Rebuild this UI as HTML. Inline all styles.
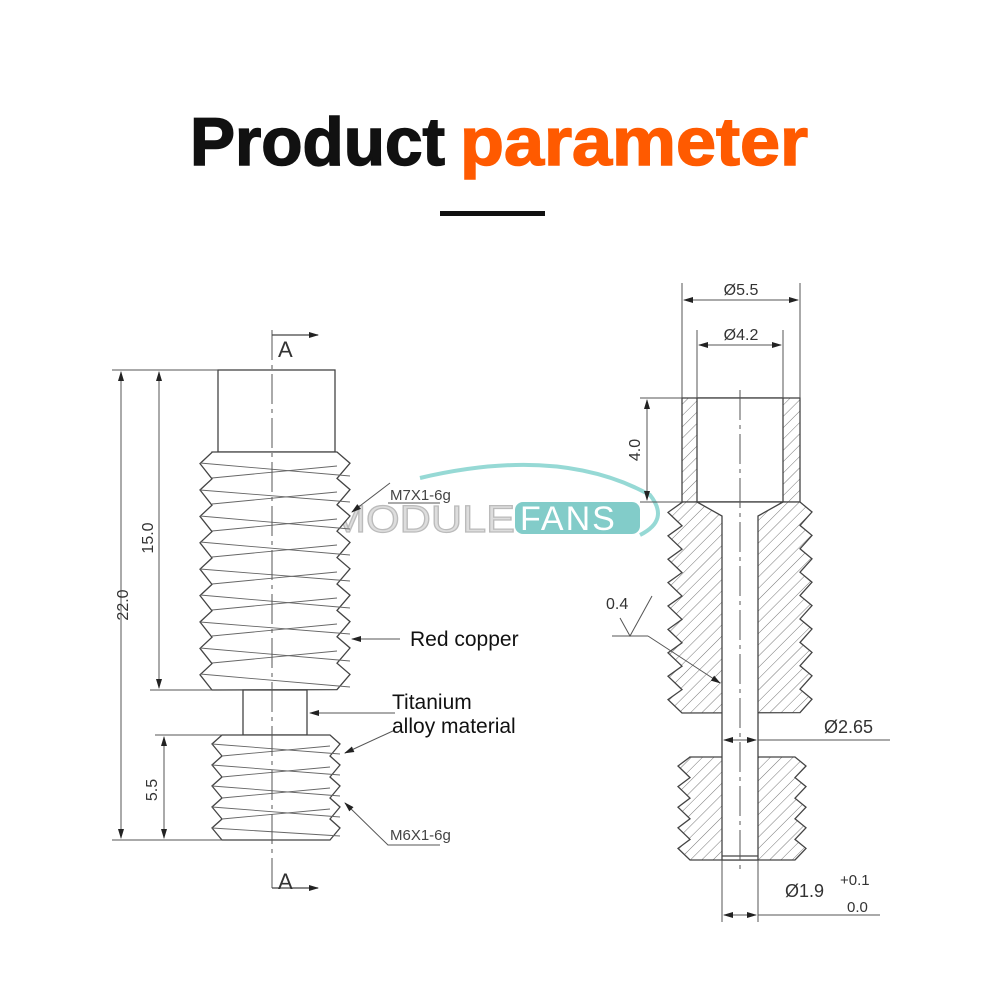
<!DOCTYPE html>
<html><head><meta charset="utf-8"><style>
html,body{margin:0;padding:0;background:#fff}
svg{display:block}
</style></head><body>
<svg width="1000" height="1000" viewBox="0 0 1000 1000" xmlns="http://www.w3.org/2000/svg" font-family="Liberation Sans, Arial, sans-serif">
<defs>
<pattern id="h" width="8" height="8" patternUnits="userSpaceOnUse" patternTransform="rotate(45)">
<rect width="8" height="8" fill="#fff"/><line x1="0" y1="0" x2="0" y2="8" stroke="#777" stroke-width="1"/>
</pattern>
<marker id="ar" markerWidth="10" markerHeight="8" refX="9" refY="4" orient="auto" markerUnits="userSpaceOnUse">
<path d="M0,1 L10,4 L0,7 Z" fill="#222"/></marker>
</defs>
<text x="190" y="165" font-size="68" font-weight="bold" fill="#111" stroke="#111" stroke-width="1.5" textLength="255" lengthAdjust="spacingAndGlyphs">Product</text>
<text x="460" y="165" font-size="68" font-weight="bold" fill="#ff5a00" stroke="#ff5a00" stroke-width="1.5" textLength="348" lengthAdjust="spacingAndGlyphs">parameter</text>
<rect x="440" y="211" width="105" height="5" fill="#111"/>

<!-- watermark -->
<path d="M420,478 Q560,445 650,495 Q670,520 640,535" fill="none" stroke="#7ccfca" stroke-width="4" opacity="0.8"/>
<text x="330" y="532" font-size="38" fill="#ddd" stroke="#bbb" stroke-width="1.2" textLength="185" lengthAdjust="spacingAndGlyphs">MODULE</text>
<rect x="515" y="502" width="125" height="32" rx="8" fill="#6cc3c0" opacity="0.85"/>
<text x="520" y="530" font-size="34" fill="#fff" letter-spacing="2">FANS</text>

<g stroke="#444" stroke-width="1.3" fill="none">
<!-- LEFT PART -->
<rect x="218" y="370" width="117" height="82" fill="#fff"/>
<path d="M212,452 L337,452 l13,11.2 l-13,15.2 l13,11.2 l-13,15.2 l13,11.2 l-13,15.2 l13,11.2 l-13,15.2 l13,11.2 l-13,15.2 l13,11.2 l-13,15.2 l13,11.2 l-13,15.2 l13,11.2 l-13,15.2 l13,11.2 l-13,15.2 L212,690 l-12,-15.2 l12,-11.2 l-12,-15.2 l12,-11.2 l-12,-15.2 l12,-11.2 l-12,-15.2 l12,-11.2 l-12,-15.2 l12,-11.2 l-12,-15.2 l12,-11.2 l-12,-15.2 l12,-11.2 l-12,-15.2 l12,-11.2 l-12,-15.2 l12,-11.2 Z" fill="#fff"/>
<g stroke="#666" stroke-width="0.9">
<path d="M200,463 L350,476 M200,490 L350,502 M200,516 L350,529 M200,542 L350,555 M200,569 L350,581 M200,595 L350,608 M200,622 L350,634 M200,648 L350,661 M200,674 L350,687"/>
<path d="M212,478 L337,466 M212,504 L337,492 M212,531 L337,519 M212,557 L337,545 M212,584 L337,572 M212,610 L337,598 M212,636 L337,624 M212,663 L337,651"/>
</g>
<rect x="243" y="690" width="64" height="45" fill="#fff"/>
<path d="M222,735 L330,735 l10,9 l-10,12 l10,9 l-10,12 l10,9 l-10,12 l10,9 l-10,12 l10,9 l-10,12 L222,840 l-10,-12 l10,-9 l-10,-12 l10,-9 l-10,-12 l10,-9 l-10,-12 l10,-9 l-10,-12 l10,-9 Z" fill="#fff"/>
<g stroke="#666" stroke-width="0.9">
<path d="M212,744 L340,754 M212,765 L340,775 M212,786 L340,796 M212,807 L340,817 M212,828 L340,836 M222,756 L330,746 M222,777 L330,767 M222,798 L330,788 M222,819 L330,809"/>
</g>
<line x1="272" y1="330" x2="272" y2="892" stroke="#555" stroke-dasharray="30 5 4 5" stroke-width="1"/>
<line x1="272" y1="335" x2="318" y2="335" marker-end="url(#ar)"/>
<line x1="272" y1="888" x2="318" y2="888" marker-end="url(#ar)"/>
<!-- dims left -->
<g stroke="#555" stroke-width="1">
<line x1="112" y1="370" x2="218" y2="370"/>
<line x1="112" y1="840" x2="222" y2="840"/>
<line x1="150" y1="690" x2="212" y2="690"/>
<line x1="155" y1="735" x2="222" y2="735"/>
<line x1="121" y1="605" x2="121" y2="372" marker-end="url(#ar)"/>
<line x1="121" y1="605" x2="121" y2="838" marker-end="url(#ar)"/>
<line x1="159" y1="530" x2="159" y2="372" marker-end="url(#ar)"/>
<line x1="159" y1="530" x2="159" y2="688" marker-end="url(#ar)"/>
<line x1="164" y1="790" x2="164" y2="737" marker-end="url(#ar)"/>
<line x1="164" y1="790" x2="164" y2="838" marker-end="url(#ar)"/>
<polyline points="390,483 352,512" marker-end="url(#ar)"/>
<line x1="400" y1="639" x2="352" y2="639" marker-end="url(#ar)"/>
<line x1="395" y1="713" x2="310" y2="713" marker-end="url(#ar)"/>
<line x1="395" y1="730" x2="345" y2="753" marker-end="url(#ar)"/>
<polyline points="440,845 388,845 345,803" marker-end="url(#ar)"/>
<line x1="388" y1="503" x2="440" y2="503"/>
</g>

<!-- RIGHT PART -->
<rect x="682" y="398" width="118" height="104" fill="url(#h)"/>
<rect x="697" y="398" width="86" height="104" fill="#fff"/>
<path d="M682,502 L800,502 l12,10 l-12,13.4 l12,10 l-12,13.4 l12,10 l-12,13.4 l12,10 l-12,13.4 l12,10 l-12,13.4 l12,10 l-12,13.4 l12,10 l-12,13.4 l12,10 l-12,13.4 l12,10 l-12,13.4 L682,713 l-14,-13.4 l14,-10 l-14,-13.4 l14,-10 l-14,-13.4 l14,-10 l-14,-13.4 l14,-10 l-14,-13.4 l14,-10 l-14,-13.4 l14,-10 l-14,-13.4 l14,-10 l-14,-13.4 l14,-10 l-14,-13.4 l14,-10 Z" fill="url(#h)"/>
<path d="M690,757 L795,757 l11,9 l-11,11.6 l11,9 l-11,11.6 l11,9 l-11,11.6 l11,9 l-11,11.6 l11,9 l-11,11.6 L690,860 l-12,-11.6 l12,-9 l-12,-11.6 l12,-9 l-12,-11.6 l12,-9 l-12,-11.6 l12,-9 l-12,-11.6 l12,-9 Z" fill="url(#h)"/>
<path d="M697,502 L783,502 L758,516 L758,860 L722,860 L722,516 Z" fill="#fff"/>
<line x1="722" y1="856" x2="758" y2="856"/>
<line x1="740" y1="390" x2="740" y2="870" stroke="#555" stroke-dasharray="30 5 4 5" stroke-width="1"/>
<g stroke="#555" stroke-width="1">
<line x1="682" y1="283" x2="682" y2="398"/>
<line x1="800" y1="283" x2="800" y2="398"/>
<line x1="697" y1="330" x2="697" y2="398"/>
<line x1="783" y1="330" x2="783" y2="398"/>
<line x1="740" y1="300" x2="684" y2="300" marker-end="url(#ar)"/>
<line x1="740" y1="300" x2="798" y2="300" marker-end="url(#ar)"/>
<line x1="740" y1="345" x2="699" y2="345" marker-end="url(#ar)"/>
<line x1="740" y1="345" x2="781" y2="345" marker-end="url(#ar)"/>
<line x1="640" y1="398" x2="682" y2="398"/>
<line x1="640" y1="502" x2="682" y2="502"/>
<line x1="647" y1="450" x2="647" y2="400" marker-end="url(#ar)"/>
<line x1="647" y1="450" x2="647" y2="500" marker-end="url(#ar)"/>
<line x1="740" y1="740" x2="724" y2="740" marker-end="url(#ar)"/>
<line x1="740" y1="740" x2="756" y2="740" marker-end="url(#ar)"/>
<line x1="758" y1="740" x2="890" y2="740"/>
<line x1="722" y1="860" x2="722" y2="922"/>
<line x1="758" y1="860" x2="758" y2="922"/>
<line x1="740" y1="915" x2="724" y2="915" marker-end="url(#ar)"/>
<line x1="740" y1="915" x2="756" y2="915" marker-end="url(#ar)"/>
<line x1="758" y1="915" x2="880" y2="915"/>
<polyline points="620,618 630,636 652,596"/>
<line x1="612" y1="636" x2="648" y2="636"/>
<line x1="648" y1="636" x2="720" y2="683" marker-end="url(#ar)"/>
</g>
</g>

<g fill="#333" font-size="15">
<text x="278" y="357" font-size="22">A</text>
<text x="278" y="889" font-size="22">A</text>
<text x="390" y="500" fill="#444">M7X1-6g</text>
<text x="390" y="840" fill="#444">M6X1-6g</text>
<text x="410" y="646" font-size="21" fill="#111">Red copper</text>
<text x="392" y="709" font-size="21" fill="#111">Titanium</text>
<text x="392" y="733" font-size="21" fill="#111">alloy material</text>
<text transform="translate(128,605) rotate(-90)" text-anchor="middle" font-size="16">22.0</text>
<text transform="translate(153,538) rotate(-90)" text-anchor="middle" font-size="16">15.0</text>
<text transform="translate(157,790) rotate(-90)" text-anchor="middle" font-size="16">5.5</text>
<text transform="translate(640,450) rotate(-90)" text-anchor="middle" font-size="16">4.0</text>
<text x="741" y="295" text-anchor="middle" font-size="16">Ø5.5</text>
<text x="741" y="340" text-anchor="middle" font-size="16">Ø4.2</text>
<text x="606" y="609" font-size="16">0.4</text>
<text x="824" y="733" font-size="18">Ø2.65</text>
<text x="785" y="897" font-size="18">Ø1.9</text>
<text x="840" y="885" font-size="15">+0.1</text>
<text x="847" y="912" font-size="15">0.0</text>
</g>
</svg>
</body></html>
